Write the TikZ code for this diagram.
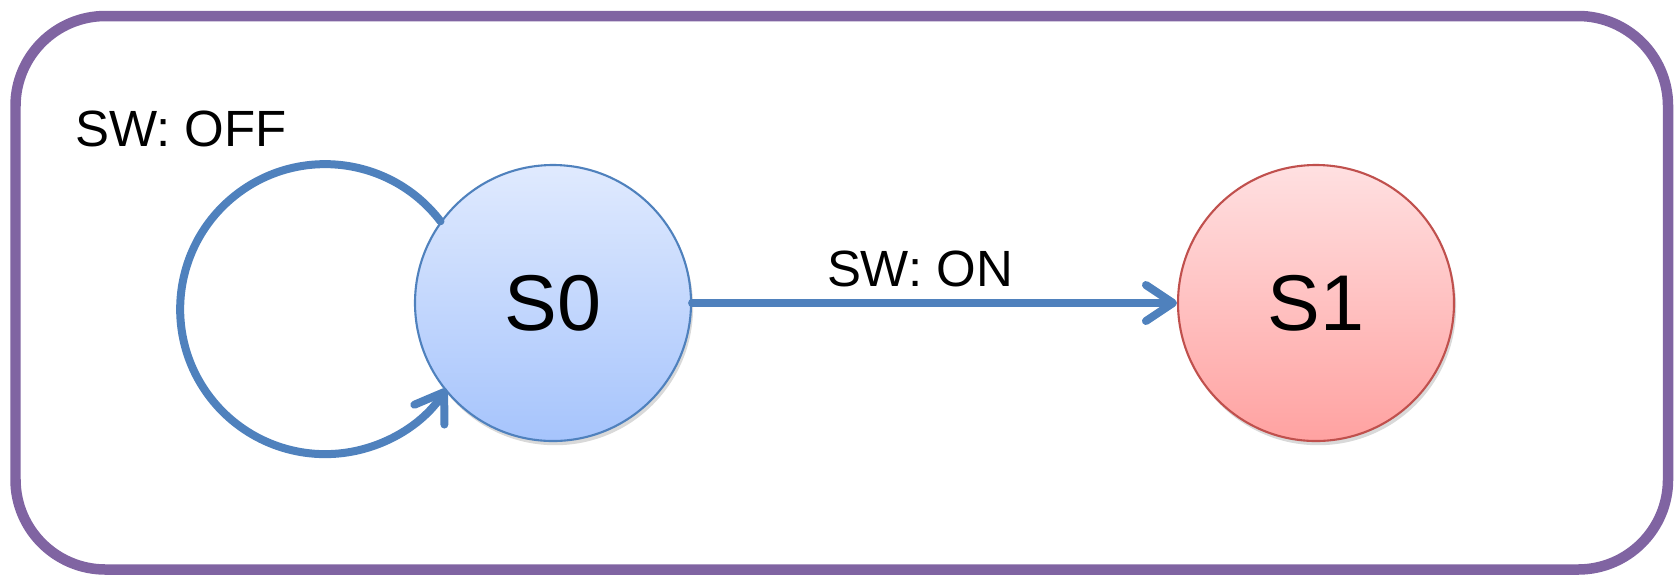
\documentclass[tikz,border=0pt]{standalone}
\usepackage{fontspec}
\setmainfont{Liberation Sans}
\usepackage{tikz}
\usetikzlibrary{arrows.meta,shadows}
\definecolor{fsmpurple}{HTML}{8064A2}
\definecolor{fsmblue}{HTML}{4F81BD}
\definecolor{fsmred}{HTML}{C0504D}
\definecolor{sblue1}{HTML}{E0EAFE}
\definecolor{sblue2}{HTML}{A6C4FC}
\definecolor{sred1}{HTML}{FFE0E1}
\definecolor{sred2}{HTML}{FFA2A1}

\begin{document}
\begin{tikzpicture}[
    state/.style={circle, draw=#1, line width=0.6pt, minimum size=2.76cm,
                  inner sep=0pt, font=\fontsize{22.5}{27}\selectfont,
                  drop shadow={shadow xshift=0.6pt, shadow yshift=-1.2pt,
                  opacity=0.3}},
    arrow/.style={-{Straight Barb[length=0.27cm, width=0.36cm, round]},
                  line width=0.08cm, draw=fsmblue, line cap=round},
    trans/.style={font=\fontsize{14.5}{17}\selectfont},
    frame/.style={draw=fsmpurple, line width=0.105cm, rounded corners=0.9cm},
]
\useasboundingbox (0,0) rectangle (16.75,5.76);

% Outer box
\draw[frame] (0.155,0.065) rectangle (16.68,5.60);

% States
\node[state=fsmblue, top color=sblue1, bottom color=sblue2]
     (s0) at (5.53,2.73) {S0};
\node[state=fsmred, top color=sred1, bottom color=sred2]
     (s1) at (13.16,2.73) {S1};

% Transitions
\draw[arrow] (s0.144.7) arc[start angle=37.3, end angle=326.7, radius=1.45];
\node[trans, anchor=base west] (offlbl) at (0.63,4.30) {SW: OFF};
\draw[arrow] (s0) -- node[trans, above, pos=0.47] (onlbl) {SW: ON} (s1);
\end{tikzpicture}
\end{document}
